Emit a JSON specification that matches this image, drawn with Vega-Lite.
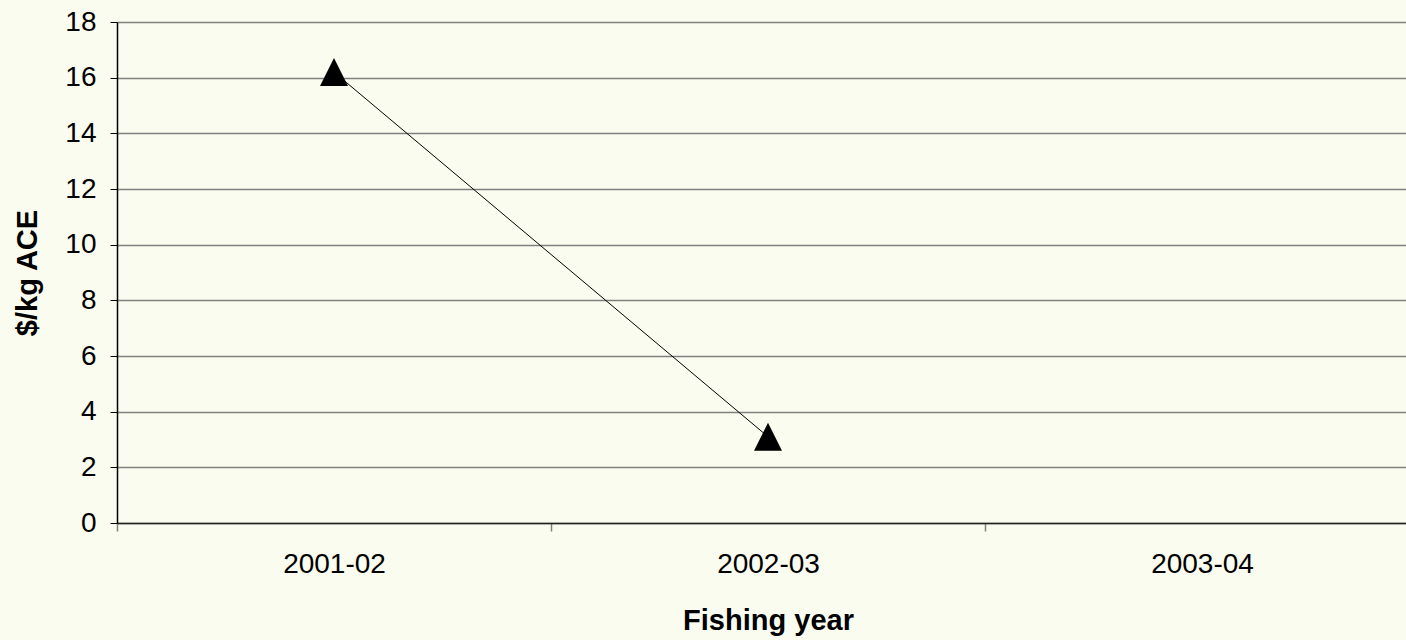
{
  "$schema": "https://vega.github.io/schema/vega-lite/v6.json",
  "autosize": "none",
  "padding": {"left": 117, "top": 22, "right": 0, "bottom": 117},
  "width": 1302,
  "height": 501,
  "background": "#FAFCEF",
  "config": {
    "view": {"stroke": null},
    "font": "Liberation Sans"
  },
  "data": {
    "values": [
      {"year": "2001-02", "value": 16.2},
      {"year": "2002-03", "value": 3.1}
    ]
  },
  "encoding": {
    "x": {
      "field": "year",
      "type": "nominal",
      "scale": {"domain": ["2001-02", "2002-03", "2003-04"], "paddingInner": 0, "paddingOuter": 0},
      "axis": {
        "title": "Fishing year",
        "labelAngle": 0,
        "labelFont": "Liberation Sans",
        "labelFontSize": 28,
        "labelColor": "#000000",
        "labelPadding": 19,
        "titleFont": "Liberation Sans",
        "titleFontSize": 29,
        "titleFontWeight": "bold",
        "titleColor": "#000000",
        "titlePadding": 28,
        "domainColor": "#222222",
        "domainWidth": 1.5,
        "tickColor": "#808080",
        "tickSize": 8,
        "tickWidth": 1.5,
        "tickBand": "extent",
        "grid": false
      }
    },
    "y": {
      "field": "value",
      "type": "quantitative",
      "scale": {"domain": [0, 18], "nice": false},
      "axis": {
        "title": "$/kg ACE",
        "values": [0, 2, 4, 6, 8, 10, 12, 14, 16, 18],
        "labelFont": "Liberation Sans",
        "labelFontSize": 28,
        "labelColor": "#000000",
        "labelPadding": 14,
        "titleFont": "Liberation Sans",
        "titleFontSize": 29,
        "titleFontWeight": "bold",
        "titleColor": "#000000",
        "titlePadding": 22,
        "domainColor": "#000000",
        "domainWidth": 1.5,
        "tickColor": "#000000",
        "tickSize": 7,
        "grid": true,
        "gridColor": "#808080",
        "gridWidth": 1.5,
        "gridOpacity": 1
      }
    }
  },
  "layer": [
    {
      "mark": {"type": "line", "color": "#000000", "strokeWidth": 1}
    },
    {
      "mark": {
        "type": "point",
        "shape": "M0,-1L1,1L-1,1Z",
        "size": 784,
        "filled": true,
        "color": "#000000",
        "opacity": 1
      }
    }
  ]
}
